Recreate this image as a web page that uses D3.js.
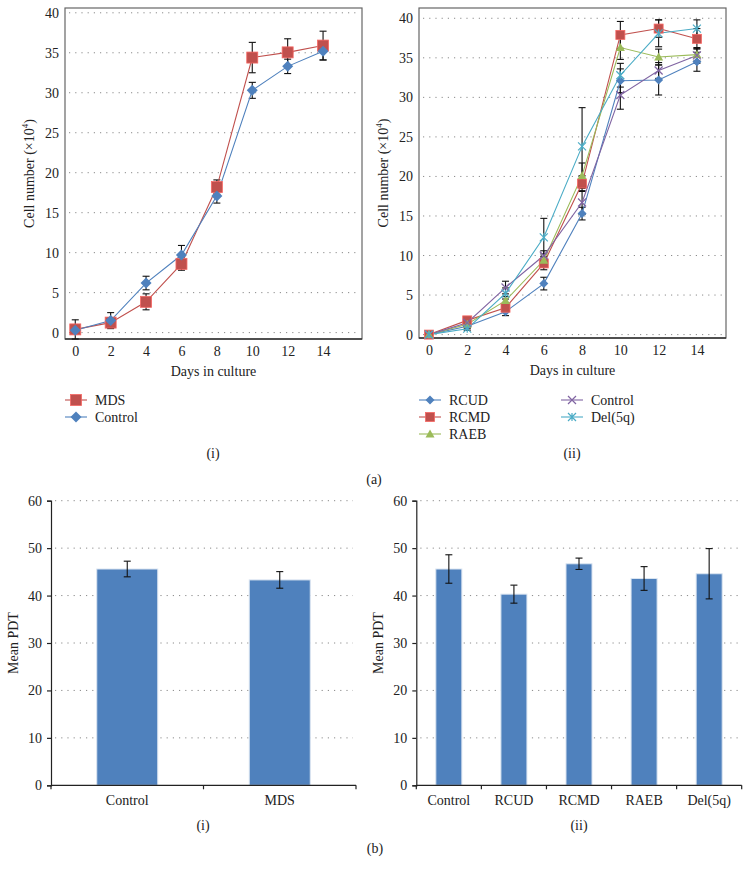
<!DOCTYPE html>
<html>
<head>
<meta charset="utf-8">
<title>Cell growth</title>
<script src="https://cdn.jsdelivr.net/npm/d3@7"></script>
<style>
    body{ margin:0; background:#fff; }
    svg text{ font-family:"Liberation Serif","Times New Roman",serif; fill:#222; }
    .grid{ stroke:#8a8a8a; stroke-width:1px; stroke-dasharray:1.2,5; }
    .frame{ fill:none; stroke:#666; stroke-width:1.2px; }
    .err{ stroke:#111; stroke-width:1.1px; fill:none; }
</style>
</head>
<body>
<script>
// ---- data ----
var days = [0, 2, 4, 6, 8, 10, 12, 14];

var mdsMean     = [0.4, 1.25, 3.85, 8.6, 18.2, 34.4, 35.05, 35.9];
var mdsErr      = [1.2, 0.6, 1.0, 0.8, 0.9, 1.9, 1.7, 1.8];
var ctlMean     = [0.3, 1.5, 6.2, 9.7, 17.1, 30.3, 33.3, 35.2];
var ctlErr      = [0.3, 1.0, 0.85, 1.2, 0.9, 1.0, 0.9, 1.1];

var rcudMean    = [0, 1.05, 2.9, 6.45, 15.3, 32.1, 32.2, 34.5];
var rcudErr     = [0, 0.3, 0.5, 0.8, 0.8, 1.5, 1.9, 1.2];
var rcmdMean    = [0, 1.8, 3.4, 9.0, 19.1, 37.9, 38.7, 37.4];
var rcmdErr     = [0, 0.3, 0.6, 0.8, 1.0, 1.7, 1.1, 1.3];
var raebMean    = [0, 1.3, 4.3, 9.4, 20.1, 36.3, 35.1, 35.4];
var raebErr     = [0, 0.3, 0.5, 0.8, 1.6, 1.5, 1.0, 0.8];
var control2Mean= [0, 1.5, 5.95, 10.0, 16.7, 30.3, 33.4, 35.3];
var control2Err = [0, 0.3, 0.8, 0.6, 1.5, 1.8, 1.0, 1.0];
var del5qMean   = [0, 0.75, 5.2, 12.3, 23.8, 32.8, 38.1, 38.7];
var del5qErr    = [0, 0.2, 0.7, 2.4, 4.9, 1.5, 1.7, 1.1];

var yTicksTop = [0, 5, 10, 15, 20, 25, 30, 35, 40];

var pdtGroups1 = ["Control", "MDS"];
var pdtMean1   = [45.6, 43.3];
var pdtErr1    = [1.65, 1.75];

var pdtGroups2 = ["Control", "RCUD", "RCMD", "RAEB", "Del(5q)"];
var pdtMean2   = [45.6, 40.3, 46.7, 43.6, 44.6];
var pdtErr2    = [3.0, 1.9, 1.2, 2.5, 5.3];

var yTicksBar = [0, 10, 20, 30, 40, 50, 60];

var FONT = "Liberation Serif, Times New Roman, serif";
var FS = "14px";

var svg = d3.select("body").append("svg")
            .attr("width", 750)
            .attr("height", 875)
            .attr("font-family", FONT);

// marker drawing
function marker(g, type, color, s){
    var h = s/2;
    if (type == "square"){
        g.append("rect").attr("x", -h).attr("y", -h).attr("width", s).attr("height", s)
         .attr("fill", color).attr("stroke", d3.color(color).brighter(0.7)).attr("stroke-width", 0.8);
    } else if (type == "diamond"){
        g.append("path").attr("d", "M0," + (-h) + "L" + h + ",0L0," + h + "L" + (-h) + ",0Z")
         .attr("fill", color);
    } else if (type == "triangle"){
        g.append("path").attr("d", "M0," + (-h) + "L" + h + "," + (h*0.75) + "L" + (-h) + "," + (h*0.75) + "Z")
         .attr("fill", color);
    } else if (type == "x"){
        g.append("path").attr("d", "M"+(-h)+","+(-h)+"L"+h+","+h+"M"+(-h)+","+h+"L"+h+","+(-h))
         .attr("stroke", color).attr("stroke-width", 1.2).attr("fill", "none");
    } else if (type == "star"){
        g.append("path").attr("d", "M"+(-h)+","+(-h)+"L"+h+","+h+"M"+(-h)+","+h+"L"+h+","+(-h)+"M0,"+(-h)+"L0,"+h)
         .attr("stroke", color).attr("stroke-width", 1.2).attr("fill", "none");
    }
}

function styleAxis(a){
    a.attr("font-family", FONT).attr("font-size", FS);
    a.selectAll("text").attr("fill", "#222");
}

//----------------------- line charts -----------------------
function lineChart(box, xDom, yDom, series){
    var xScale = d3.scaleLinear().domain(xDom).range([box.l, box.r]);
    var yScale = d3.scaleLinear().domain(yDom).range([box.b, box.t]);
    var g = svg.append("g");

    g.selectAll(".grid").data(yTicksTop).enter().append("line")
        .attr("class", "grid")
        .attr("x1", box.l + 4).attr("x2", box.r - 3)
        .attr("y1", function(d){ return yScale(d); })
        .attr("y2", function(d){ return yScale(d); });

    g.append("rect").attr("class", "frame")
        .attr("x", box.l).attr("y", box.t)
        .attr("width", box.r - box.l).attr("height", box.b - box.t);
    g.append("line").attr("x1", box.l).attr("x2", box.r)
        .attr("y1", box.b).attr("y2", box.b)
        .attr("stroke", "#333").attr("stroke-width", 1.4);

    var yAxis = d3.axisLeft(yScale).tickValues(yTicksTop).tickSize(0).tickPadding(6);
    g.append("g").attr("transform", "translate(" + box.l + ",0)").call(yAxis)
        .call(function(a){ a.select(".domain").remove(); })
        .call(styleAxis);

    var xAxis = d3.axisBottom(xScale).tickValues(days).tickSize(0).tickPadding(7);
    g.append("g").attr("transform", "translate(0," + box.b + ")").call(xAxis)
        .call(function(a){ a.select(".domain").remove(); })
        .call(styleAxis);

    g.append("text").attr("x", (box.l + box.r)/2).attr("y", box.b + 37)
        .attr("text-anchor", "middle").attr("font-size", FS).text("Days in culture");

    var yl = g.append("text")
        .attr("transform", "translate(" + (box.l - 31) + "," + ((box.t + box.b)/2) + ") rotate(-90)")
        .attr("text-anchor", "middle").attr("font-size", FS);
    yl.append("tspan").text("Cell number (\u00d710");
    yl.append("tspan").attr("font-size", "9px").attr("dy", -6).text("4");
    yl.append("tspan").attr("dy", 6).text(")");

    // error bars
    series.forEach(function(s){
        var eg = g.append("g");
        days.forEach(function(d, i){
            if (s.err[i] <= 0) return;
            var x = xScale(d), y1 = yScale(s.mean[i] + s.err[i]), y2 = yScale(s.mean[i] - s.err[i]);
            eg.append("line").attr("class", "err").attr("x1", x).attr("x2", x).attr("y1", y1).attr("y2", y2);
            eg.append("line").attr("class", "err").attr("x1", x - 3.5).attr("x2", x + 3.5).attr("y1", y1).attr("y2", y1);
            eg.append("line").attr("class", "err").attr("x1", x - 3.5).attr("x2", x + 3.5).attr("y1", y2).attr("y2", y2);
        });
    });

    var line = d3.line()
        .x(function(d, i){ return xScale(days[i]); })
        .y(function(d){ return yScale(d); });

    series.forEach(function(s){
        g.append("path").datum(s.mean).attr("d", line)
            .attr("fill", "none").attr("stroke", s.color).attr("stroke-width", 1.1);
    });
    series.forEach(function(s){
        s.mean.forEach(function(v, i){
            var mg = g.append("g").attr("transform", "translate(" + xScale(days[i]) + "," + yScale(v) + ")");
            marker(mg, s.shape, s.color, s.size);
        });
    });
}

function legendItem(x, y, s, label){
    var g = svg.append("g").attr("transform", "translate(" + x + "," + y + ")");
    g.append("line").attr("x1", -11).attr("x2", 11).attr("y1", 0).attr("y2", 0)
        .attr("stroke", s.color).attr("stroke-width", 1.1);
    marker(g, s.shape, s.color, s.size);
    g.append("text").attr("x", 19).attr("y", 5).attr("font-size", FS).text(label);
}

var sMDS  = {mean: mdsMean, err: mdsErr, color: "#c0504d", shape: "square", size: 11};
var sCtl  = {mean: ctlMean, err: ctlErr, color: "#4f81bd", shape: "diamond", size: 11};

lineChart({l: 65, r: 362, t: 8, b: 339}, [-0.58, 16.2], [-0.8, 40.6], [sMDS, sCtl]);
legendItem(76, 400, sMDS, "MDS");
legendItem(76, 417, sCtl, "Control");

var sRCUD = {mean: rcudMean, err: rcudErr, color: "#4f81bd", shape: "diamond", size: 9};
var sRCMD = {mean: rcmdMean, err: rcmdErr, color: "#c0504d", shape: "square", size: 9};
var sRAEB = {mean: raebMean, err: raebErr, color: "#9bbb59", shape: "triangle", size: 9};
var sCtl2 = {mean: control2Mean, err: control2Err, color: "#8064a2", shape: "x", size: 8};
var sDel  = {mean: del5qMean, err: del5qErr, color: "#4bacc6", shape: "star", size: 8};

lineChart({l: 419, r: 726, t: 8, b: 338}, [-0.52, 15.52], [-0.43, 41.3], [sRCUD, sRCMD, sRAEB, sCtl2, sDel]);
legendItem(430, 400, sRCUD, "RCUD");
legendItem(430, 417, sRCMD, "RCMD");
legendItem(430, 434, sRAEB, "RAEB");
legendItem(572, 400, sCtl2, "Control");
legendItem(572, 417, sDel, "Del(5q)");

function caption(x, y, t){
    svg.append("text").attr("x", x).attr("y", y).attr("text-anchor", "middle")
        .attr("font-size", FS).text(t);
}
caption(213, 458, "(i)");
caption(572, 458, "(ii)");
caption(374, 484, "(a)");

//----------------------- bar charts -----------------------
function barChart(box, groups, mean, err){
    var xScale = d3.scaleBand().domain(groups).range([box.l, box.r]).paddingInner(0.6).paddingOuter(0.3);
    var band = (box.r - box.l) / groups.length;
    var yScale = d3.scaleLinear().domain([0, 60]).range([box.b, box.t]);
    var g = svg.append("g");

    g.selectAll(".grid").data(yTicksBar.slice(1)).enter().append("line")
        .attr("class", "grid")
        .attr("x1", box.l + 4).attr("x2", box.r - 3)
        .attr("y1", function(d){ return yScale(d); })
        .attr("y2", function(d){ return yScale(d); });

    g.selectAll(".bar").data(mean).enter().append("rect")
        .attr("x", function(d, i){ return xScale(groups[i]); })
        .attr("y", function(d){ return yScale(d); })
        .attr("width", xScale.bandwidth())
        .attr("height", function(d){ return box.b - yScale(d); })
        .attr("fill", "#4f81bd").attr("stroke", "#dbe5f1").attr("stroke-width", 1);

    mean.forEach(function(v, i){
        var x = xScale(groups[i]) + xScale.bandwidth()/2;
        var y1 = yScale(v + err[i]), y2 = yScale(v - err[i]);
        g.append("line").attr("class", "err").attr("x1", x).attr("x2", x).attr("y1", y1).attr("y2", y2);
        g.append("line").attr("class", "err").attr("x1", x - 3.5).attr("x2", x + 3.5).attr("y1", y1).attr("y2", y1);
        g.append("line").attr("class", "err").attr("x1", x - 3.5).attr("x2", x + 3.5).attr("y1", y2).attr("y2", y2);
    });

    var yAxis = d3.axisLeft(yScale).tickValues(yTicksBar).tickSize(4).tickPadding(5);
    var ya = g.append("g").attr("transform", "translate(" + box.l + ",0)").call(yAxis).call(styleAxis);
    ya.selectAll("line, path").attr("stroke", "#222").attr("stroke-width", 1.2);

    g.append("line").attr("x1", box.l).attr("x2", box.r).attr("y1", box.b).attr("y2", box.b)
        .attr("stroke", "#222").attr("stroke-width", 1.2);
    d3.range(groups.length + 1).forEach(function(i){
        var x = box.l + band * i;
        g.append("line").attr("x1", x).attr("x2", x).attr("y1", box.b).attr("y2", box.b + 4)
            .attr("stroke", "#222").attr("stroke-width", 1.2);
    });
    groups.forEach(function(name, i){
        g.append("text").attr("x", xScale(name) + xScale.bandwidth()/2).attr("y", box.b + 20)
            .attr("text-anchor", "middle").attr("font-size", FS).text(name);
    });

    g.append("text")
        .attr("transform", "translate(" + (box.l - 33) + "," + ((box.t + box.b)/2) + ") rotate(-90)")
        .attr("text-anchor", "middle").attr("font-size", FS).text("Mean PDT");
}

barChart({l: 51, r: 356, t: 500.7, b: 785.3}, pdtGroups1, pdtMean1, pdtErr1);
barChart({l: 416.3, r: 741.7, t: 500.7, b: 785.3}, pdtGroups2, pdtMean2, pdtErr2);

caption(203, 830, "(i)");
caption(579, 830, "(ii)");
caption(375, 853, "(b)");
</script>
</body>
</html>
